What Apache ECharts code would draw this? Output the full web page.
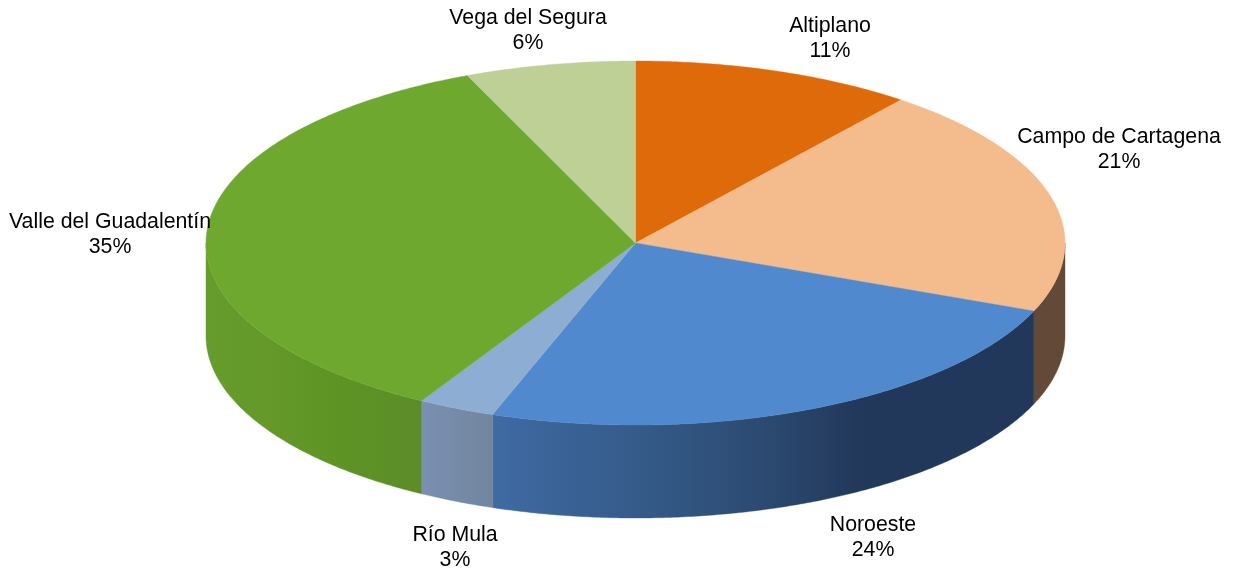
<!DOCTYPE html>
<html>
<head>
<meta charset="utf-8">
<style>html,body{margin:0;padding:0;background:#fff}#c{width:1233px;height:573px}</style>
<script src="https://cdn.jsdelivr.net/npm/echarts@6/dist/echarts.min.js"></script>
</head>
<body>
<div id="c"></div>
<script>
// Data, clockwise from 12 o'clock
const categories = ['Altiplano', 'Campo de Cartagena', 'Noroeste', 'Río Mula', 'Valle del Guadalentín', 'Vega del Segura'];
const values = [10.6, 20.5, 24.3, 2.9, 35.3, 6.4];
const percentLabels = ['11%', '21%', '24%', '3%', '35%', '6%'];

// Styling and layout
const topColors = ['#DE6A09', '#F4BB8C', '#5189CF', '#8DADD3', '#6EA82E', '#BFD096'];
const wallStops = [
  null,
  [[0, '#634A38'], [1, '#634A38']],
  [[0, '#3F6AA3'], [0.28, '#345A88'], [0.5, '#2C4A72'], [0.68, '#22385A'], [1, '#22385A']],
  [[0, '#7A90B2'], [1, '#72859E']],
  [[0, '#659C2C'], [0.3, '#64992A'], [0.6, '#5D9424'], [0.8, '#5C9126'], [1, '#5C8C29']],
  null
];
const labelCenters = [[830, 39], [1119, 150], [873, 538], [455, 548], [110, 235], [528, 31]];
const cx = 635.5, cy = 243, rx = 429.5, ry = 182, depth = 93;

const total = values.reduce((a, b) => a + b, 0);
const pt = (deg, dy) => {
  const t = deg * Math.PI / 180;
  return [cx + rx * Math.sin(t), cy - ry * Math.cos(t) + (dy || 0)];
};
const arc = (a, b, dy) => {
  const out = [];
  const n = Math.max(2, Math.ceil(Math.abs(b - a) * 2));
  for (let i = 0; i <= n; i++) out.push(pt(a + (b - a) * i / n, dy));
  return out;
};

function renderItem(params, api) {
  const i = params.dataIndex;
  const before = values.slice(0, i).reduce((a, b) => a + b, 0);
  const a0 = before / total * 360;
  const a1 = a0 + api.value(0) / total * 360;
  const children = [];
  const w0 = Math.max(a0, 90), w1 = Math.min(a1, 270);
  if (w1 > w0 && wallStops[i]) {
    const top = arc(w0, w1, 0);
    const bottom = arc(w1, w0, depth);
    const pts = top.concat(bottom);
    const xs = pts.map(p => p[0]);
    const x0 = Math.max.apply(null, xs), x1 = Math.min.apply(null, xs);
    // colour stops run left to right across the wall
    const fill = new echarts.graphic.LinearGradient(x1, 0, x0, 0,
      wallStops[i].map(s => ({ offset: s[0], color: s[1] })), true);
    children.push({ type: 'polygon', shape: { points: pts }, style: { fill: fill, stroke: fill, lineWidth: 0.4 } });
  }
  children.push({
    type: 'polygon', z2: 5,
    shape: { points: [[cx, cy]].concat(arc(a0, a1, 0)) },
    style: { fill: topColors[i], stroke: topColors[i], lineWidth: 0.4 }
  });
  children.push({
    type: 'text', z2: 10,
    x: labelCenters[i][0], y: labelCenters[i][1],
    style: {
      text: categories[i] + '\n' + percentLabels[i],
      fill: '#000', align: 'center', verticalAlign: 'middle',
      font: '21.3px "Liberation Sans", Arial, sans-serif', lineHeight: 25
    }
  });
  return { type: 'group', children: children };
}

const chart = echarts.init(document.getElementById('c'), null, { renderer: 'canvas' });
chart.setOption({
  backgroundColor: '#fff',
  animation: false,
  series: [{
    type: 'custom',
    coordinateSystem: 'none',
    silent: true,
    renderItem: renderItem,
    data: values.map((v, i) => ({ name: categories[i], value: [v] }))
  }]
});
</script>
</body>
</html>
